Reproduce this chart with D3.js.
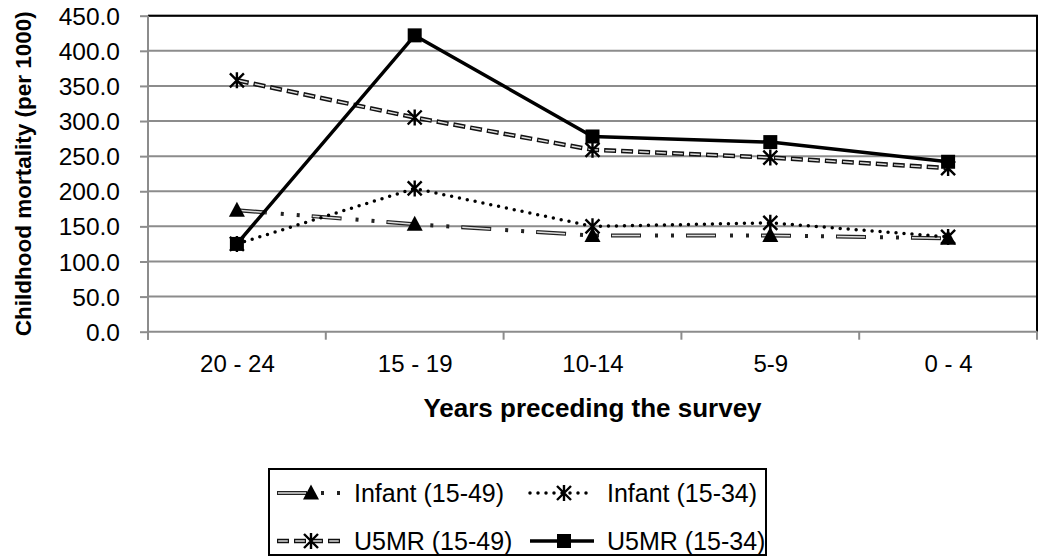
<!DOCTYPE html>
<html>
<head>
<meta charset="utf-8">
<script src="https://cdn.jsdelivr.net/npm/d3@7"></script>
<style>
  body { margin: 0; background: #fff; }
  svg text { font-family: "Liberation Sans", Arial, sans-serif; fill: #000; }
</style>
</head>
<body>
<div class="container"></div>
<script>
var categories = ["20 - 24", "15 - 19", "10-14", "5-9", "0 - 4"];
var yTicks = [0, 50, 100, 150, 200, 250, 300, 350, 400, 450];

var infant1549 = [173, 153, 137, 137, 133];
var infant1534 = [125, 204, 150, 155, 135];
var u5mr1549 = [358, 305, 259, 248, 233];
var u5mr1534 = [125, 422, 278, 270, 242];

var seriesNames = ["Infant (15-49)", "Infant (15-34)", "U5MR (15-49)", "U5MR (15-34)"];

const WIDTH = 1041;
const HEIGHT = 559;
const PLOT = {left: 148, top: 15.7, right: 1037, bottom: 331.7};

var translate = function(x, y){
	return "translate(" + x + "," + y + ")";
};

var svg = d3.select('.container').append('svg')
	.attr('width', WIDTH)
	.attr('height', HEIGHT);

var xScale = d3.scalePoint()
	.domain(categories)
	.range([PLOT.left, PLOT.right])
	.padding(0.5);

var xBand = d3.scaleBand()
	.domain(categories)
	.range([PLOT.left, PLOT.right]);

var yScale = d3.scaleLinear()
	.domain([0, 450])
	.range([PLOT.bottom, PLOT.top]);

// gridlines
svg.append('g').selectAll('line').data(yTicks.slice(1)).enter().append('line')
	.attr('x1', PLOT.left).attr('x2', PLOT.right)
	.attr('y1', function(d){ return yScale(d); })
	.attr('y2', function(d){ return yScale(d); })
	.attr('stroke', '#8c8c8c').attr('stroke-width', 2);

// top + right frame
svg.append('path')
	.attr('d', 'M' + PLOT.left + ',' + PLOT.top + 'H' + PLOT.right + 'V' + PLOT.bottom)
	.attr('fill', 'none').attr('stroke', '#000').attr('stroke-width', 2);

// y axis
var yAxis = d3.axisLeft(yScale)
	.tickValues(yTicks)
	.tickFormat(d3.format('.1f'))
	.tickSize(8);

var yg = svg.append('g')
	.attr('transform', translate(PLOT.left, 0))
	.call(yAxis);
yg.selectAll('path, line').attr('stroke', '#8c8c8c').attr('stroke-width', 2);
yg.select('.domain').attr('d', 'M0,' + PLOT.top + 'V' + (PLOT.bottom + 8));
yg.selectAll('text').style('font-size', '24.5px').attr('x', -28).attr('dy', '0.35em');

// x axis
var xAxis = d3.axisBottom(xScale)
	.tickSize(0)
	.tickPadding(0);
var xg = svg.append('g')
	.attr('transform', translate(0, PLOT.bottom))
	.call(xAxis);
xg.select('.domain').attr('stroke', '#8c8c8c').attr('stroke-width', 2)
	.attr('d', 'M' + PLOT.left + ',0H' + PLOT.right);
xg.selectAll('text').style('font-size', '24px').attr('y', 40).attr('dy', 0);

// category boundary ticks
xg.append('g').selectAll('line').data(categories.concat(['end'])).enter().append('line')
	.attr('x1', function(d, i){ return i < categories.length ? xBand(d) : PLOT.right; })
	.attr('x2', function(d, i){ return i < categories.length ? xBand(d) : PLOT.right; })
	.attr('y1', 0).attr('y2', 8)
	.attr('stroke', '#8c8c8c').attr('stroke-width', 2);

// axis titles
svg.append('text')
	.attr('x', (PLOT.left + PLOT.right) / 2)
	.attr('y', 417)
	.attr('text-anchor', 'middle')
	.style('font-size', '26px')
	.style('font-weight', 'bold')
	.text('Years preceding the survey');

svg.append('text')
	.attr('transform', translate(31, (PLOT.top + PLOT.bottom) / 2) + ' rotate(-90)')
	.attr('text-anchor', 'middle')
	.style('font-size', '22.5px')
	.style('font-weight', 'bold')
	.text('Childhood mortality (per 1000)');

var line = d3.line()
	.x(function(d, i){ return xScale(categories[i]); })
	.y(function(d){ return yScale(d); });

// line styles
var drawInfant1549 = function(g, d){
	g.append('path').attr('d', d).attr('fill', 'none')
		.attr('stroke', '#222').attr('stroke-width', 4)
		.attr('stroke-dasharray', '30,14,3,13,3,12');
	g.append('path').attr('d', d).attr('fill', 'none')
		.attr('stroke', '#ddd').attr('stroke-width', 1.5)
		.attr('stroke-dasharray', '0,1,28,46');
};
var drawInfant1534 = function(g, d){
	g.append('path').attr('d', d).attr('fill', 'none')
		.attr('stroke', '#000').attr('stroke-width', 3.5)
		.attr('stroke-linecap', 'round')
		.attr('stroke-dasharray', '0,8');
};
var drawU5mr1549 = function(g, d){
	g.append('path').attr('d', d).attr('fill', 'none')
		.attr('stroke', '#111').attr('stroke-width', 4.5)
		.attr('stroke-dasharray', '12,5');
	g.append('path').attr('d', d).attr('fill', 'none')
		.attr('stroke', '#ddd').attr('stroke-width', 1.5)
		.attr('stroke-dasharray', '0,1.2,9.6,6.2');
};
var drawU5mr1534 = function(g, d){
	g.append('path').attr('d', d).attr('fill', 'none')
		.attr('stroke', '#000').attr('stroke-width', 3.5);
};

// markers
var triangle = function(g, x, y){
	g.append('path')
		.attr('d', 'M' + x + ',' + (y - 8.5) + 'L' + (x + 8) + ',' + (y + 6.5) + 'L' + (x - 8) + ',' + (y + 6.5) + 'Z')
		.attr('fill', '#000');
};
var star = function(g, x, y){
	var s = 7;
	g.append('path')
		.attr('d', 'M' + (x - s) + ',' + (y - s) + 'L' + (x + s) + ',' + (y + s) +
			'M' + (x + s) + ',' + (y - s) + 'L' + (x - s) + ',' + (y + s) +
			'M' + x + ',' + (y - s - 1) + 'V' + (y + s + 1))
		.attr('stroke', '#000').attr('stroke-width', 2.4).attr('fill', 'none');
};
var square = function(g, x, y){
	g.append('rect')
		.attr('x', x - 7).attr('y', y - 7)
		.attr('width', 14).attr('height', 14)
		.attr('fill', '#000');
};

var series = [
	{name: seriesNames[0], values: infant1549, draw: drawInfant1549, marker: triangle},
	{name: seriesNames[1], values: infant1534, draw: drawInfant1534, marker: star},
	{name: seriesNames[2], values: u5mr1549, draw: drawU5mr1549, marker: star},
	{name: seriesNames[3], values: u5mr1534, draw: drawU5mr1534, marker: square}
];

var plotG = svg.append('g');
series.forEach(function(s){
	var g = plotG.append('g');
	s.draw(g, line(s.values));
	s.values.forEach(function(v, i){
		s.marker(g, xScale(categories[i]), yScale(v));
	});
});

// legend
var legend = svg.append('g');
legend.append('rect')
	.attr('x', 269).attr('y', 469)
	.attr('width', 497).attr('height', 86)
	.attr('fill', '#fff').attr('stroke', '#000').attr('stroke-width', 2);

var legendPos = [
	{x: 277, y: 493}, {x: 530, y: 493},
	{x: 277, y: 541}, {x: 530, y: 541}
];
series.forEach(function(s, i){
	var p = legendPos[i];
	var g = legend.append('g');
	var w = 64;
	s.draw(g, 'M' + p.x + ',' + p.y + 'H' + (p.x + w));
	s.marker(g, p.x + w / 2 + 2, p.y);
	g.append('text')
		.attr('x', p.x + w + 13)
		.attr('y', p.y + 9)
		.style('font-size', '25px')
		.text(s.name);
});
</script>
</body>
</html>
